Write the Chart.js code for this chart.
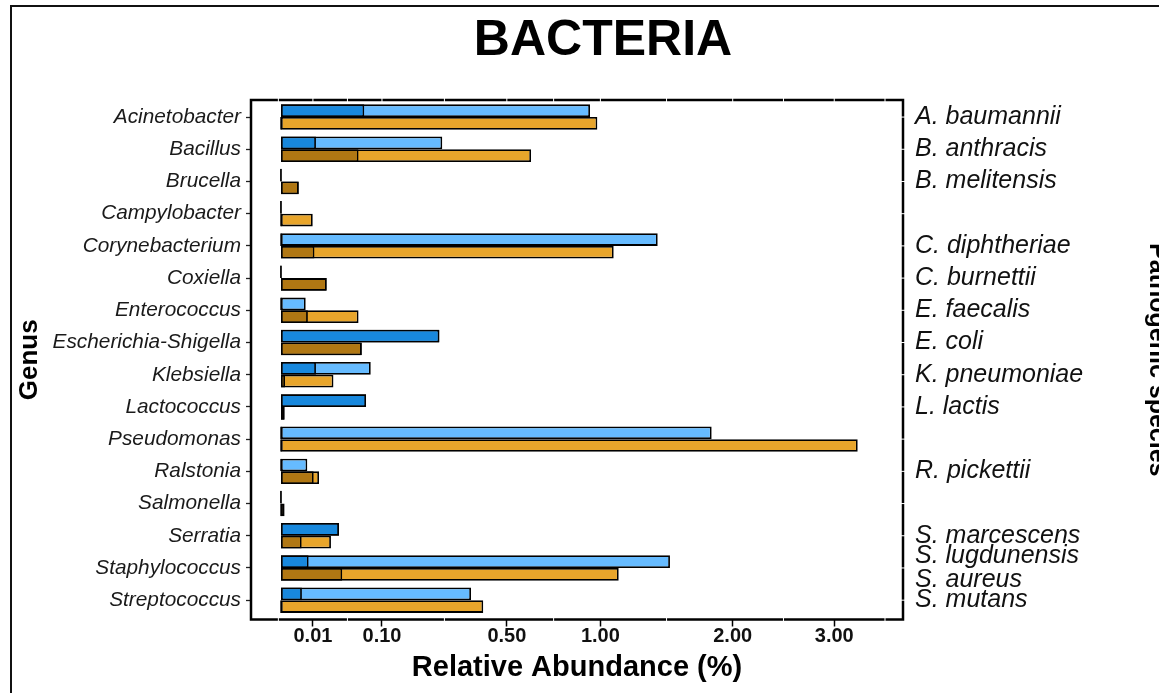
<!DOCTYPE html>
<html>
<head>
<meta charset="utf-8">
<script src="https://cdn.jsdelivr.net/npm/chart.js@4.4.0/dist/chart.umd.min.js"></script>
<style>
  html, body { margin: 0; padding: 0; background: #fff; }
  canvas { display: block; }
</style>
</head>
<body>
<canvas id="bacteria-chart" width="1159" height="693"></canvas>
<script>
// genera on the left axis, top to bottom
const genera = [
  'Acinetobacter', 'Bacillus', 'Brucella', 'Campylobacter', 'Corynebacterium',
  'Coxiella', 'Enterococcus', 'Escherichia-Shigella', 'Klebsiella', 'Lactococcus',
  'Pseudomonas', 'Ralstonia', 'Salmonella', 'Serratia', 'Staphylococcus', 'Streptococcus'
];
// pathogenic species on the right axis ('' = none for that genus)
const pathogenicSpecies = [
  'A. baumannii', 'B. anthracis', 'B. melitensis', '', 'C. diphtheriae',
  'C. burnettii', 'E. faecalis', 'E. coli', 'K. pneumoniae', 'L. lactis',
  '', 'R. pickettii', '', 'S. marcescens', ['S. lugdunensis', 'S. aureus'], 'S. mutans'
];
// relative abundance (%) - blue group, genus level and pathogenic species level
const blueGenus   = [0.936, 0.255, 0, 0, 1.391, 0, 0.006, 0.246, 0.079, 0.071, 1.818, 0.0068, 0, 0.033, 1.483, 0.354];
const blueSpecies = [0.068, 0.012, 0, 0, 0, 0, 0, 0.246, 0.012, 0.071, 0, 0, 0, 0.033, 0.0075, 0.0043];
// relative abundance (%) - orange group, genus level and pathogenic species level
const orangeGenus   = [0.981, 0.613, 0.0031, 0.0099, 1.085, 0.0205, 0.059, 0.064, 0.027, 0.00013, 3.26, 0.0142, 0.00013, 0.0245, 1.118, 0.401];
const orangeSpecies = [0, 0.059, 0.0031, 0, 0.011, 0.0205, 0.0071, 0.064, 0.00016, 0.00013, 0, 0.0105, 0, 0.0042, 0.0368, 0];
// x axis breaks (%), square-root scaled axis
const xBreaks = [0.01, 0.10, 0.50, 1.00, 2.00, 3.00];

const plotTitle = 'BACTERIA';

// square root axis, like scale_x_sqrt
const tr = v => Math.sign(v) * Math.sqrt(Math.abs(v));
class SqrtScale extends Chart.LinearScale {
  static id = 'sqrt';
  static defaults = {};
  configure() {
    super.configure();
    this._tStart = tr(this.min);
    this._tRange = tr(this.max) - this._tStart;
  }
  getPixelForValue(value) {
    return value === null ? NaN : this.getPixelForDecimal((tr(value) - this._tStart) / this._tRange);
  }
  getValueForPixel(pixel) {
    const t = this._tStart + this.getDecimalForPixel(pixel) * this._tRange;
    return Math.sign(t) * t * t;
  }
}
Chart.register(SqrtScale);

Chart.defaults.font.family = '"Liberation Sans", Arial, Helvetica, sans-serif';

const points = arr => arr.map((v, i) => ({ x: v, y: i }));

function barSet(label, values, colour, stack) {
  return {
    label: label,
    data: points(values),
    backgroundColor: colour,
    borderColor: '#000',
    borderWidth: 1.8,
    borderSkipped: false,
    minBarLength: 1.6,
    stack: stack,
    xAxisID: 'x',
    yAxisID: 'y'
  };
}

// white notches across the panel border, plus the border itself
const panelDecor = {
  id: 'panelDecor',
  beforeDraw(chart) {
    const ctx = chart.ctx;
    ctx.save();
    ctx.fillStyle = '#fff';
    ctx.fillRect(0, 0, chart.width, chart.height);
    ctx.strokeStyle = '#111';
    ctx.lineWidth = 2;
    ctx.beginPath();
    ctx.moveTo(11, chart.height + 5);
    ctx.lineTo(11, 6);
    ctx.lineTo(chart.width + 5, 6);
    ctx.stroke();
    ctx.fillStyle = '#000';
    ctx.font = 'bold 50px "Liberation Sans", Arial, sans-serif';
    ctx.textAlign = 'center';
    ctx.textBaseline = 'alphabetic';
    ctx.fillText(plotTitle, 603, 55);
    ctx.restore();
  },
  afterDraw(chart) {
    const { ctx, chartArea: a } = chart;
    const xs = chart.scales.x, ys = chart.scales.y;
    ctx.save();
    ctx.strokeStyle = '#000';
    ctx.lineWidth = 2.5;
    ctx.strokeRect(a.left, a.top, a.right - a.left, a.bottom - a.top);

    const t = xBreaks.map(Math.sqrt);
    const minors = [t[0] - (t[1] - t[0]) / 2];
    for (let i = 0; i < t.length - 1; i++) minors.push((t[i] + t[i + 1]) / 2);
    minors.push(t[t.length - 1] + (t[t.length - 1] - t[t.length - 2]) / 2);
    const px = m => xs.getPixelForValue(Math.sign(m) * m * m);

    ctx.strokeStyle = '#fff';
    ctx.lineWidth = 1;
    ctx.beginPath();
    t.concat(minors).forEach(m => {
      const x = px(m);
      if (x > a.left + 2 && x < a.right - 2) { ctx.moveTo(x, a.top - 3); ctx.lineTo(x, a.top + 3); }
    });
    minors.forEach(m => {
      const x = px(m);
      if (x > a.left + 2 && x < a.right - 2) { ctx.moveTo(x, a.bottom - 3); ctx.lineTo(x, a.bottom + 3); }
    });
    genera.forEach((g, i) => {
      const y = ys.getPixelForValue(i);
      ctx.moveTo(a.right - 3, y); ctx.lineTo(a.right + 3, y);
    });
    ctx.stroke();
    ctx.restore();
  }
};

new Chart(document.getElementById('bacteria-chart'), {
  type: 'bar',
  data: {
    datasets: [
      barSet('Species (blue)', blueSpecies, '#1888DD', 'blue'),
      barSet('Species (orange)', orangeSpecies, '#B07713', 'orange'),
      barSet('Genus (blue)', blueGenus, '#66BBFF', 'blue'),
      barSet('Genus (orange)', orangeGenus, '#E8A52B', 'orange')
    ]
  },
  options: {
    indexAxis: 'y',
    responsive: false,
    animation: false,
    devicePixelRatio: 1,
    categoryPercentage: 0.79,
    barPercentage: 1.0,
    layout: { padding: { top: 100, left: 0, right: 0, bottom: 0 } },
    plugins: {
      legend: { display: false },
      tooltip: { enabled: false },
      title: { display: false }
    },
    scales: {
      x: {
        type: 'sqrt',
        position: 'bottom',
        stacked: false,
        min: -0.0088,
        max: 3.792,
        afterBuildTicks: s => { s.ticks = xBreaks.map(v => ({ value: v })); },
        afterFit: s => { s.height = 73.5; },
        ticks: {
          autoSkip: false,
          maxRotation: 0,
          padding: -2,
          color: '#111',
          font: { size: 20, weight: 'bold' },
          callback: v => Number(v).toFixed(2)
        },
        grid: { display: true, drawOnChartArea: false, drawTicks: true, tickLength: 7, tickColor: '#000', tickWidth: 1.5 },
        border: { display: false },
        title: {
          display: true,
          text: 'Relative Abundance (%)',
          color: '#000',
          font: { size: 29, weight: 'bold' },
          padding: { top: 0, bottom: 8 }
        }
      },
      y: {
        type: 'linear',
        position: 'left',
        reverse: true,
        offset: false,
        min: -0.53,
        max: 15.6,
        afterBuildTicks: s => { s.ticks = genera.map((g, i) => ({ value: i })); },
        afterFit: s => { s.width = 251; },
        ticks: {
          autoSkip: false,
          padding: 5,
          color: '#1a1a1a',
          font: { size: 20.8, style: 'italic' },
          callback: (v, i) => genera[i]
        },
        grid: { display: true, offset: false, drawOnChartArea: false, drawTicks: true, tickLength: 5, tickColor: '#222', tickWidth: 1.3 },
        border: { display: false },
        title: {
          display: true,
          text: 'Genus',
          color: '#000',
          font: { size: 26, weight: 'bold' },
          padding: { top: 14, bottom: 0 }
        }
      },
      y2: {
        type: 'linear',
        position: 'right',
        reverse: true,
        offset: false,
        min: -0.53,
        max: 15.6,
        afterBuildTicks: s => { s.ticks = pathogenicSpecies.map((p, i) => ({ value: i })); },
        afterFit: s => { s.width = 256; },
        ticks: {
          autoSkip: false,
          padding: 12,
          color: '#111',
          font: { size: 25, style: 'italic', lineHeight: 0.93 },
          callback: (v, i) => pathogenicSpecies[i]
        },
        grid: { display: false, offset: false, drawTicks: false },
        border: { display: false },
        title: {
          display: true,
          text: 'Pathogenic species',
          color: '#000',
          font: { size: 25, weight: 'bold' },
          padding: { top: -13, bottom: 0 }
        }
      }
    }
  },
  plugins: [panelDecor]
});
</script>
</body>
</html>
